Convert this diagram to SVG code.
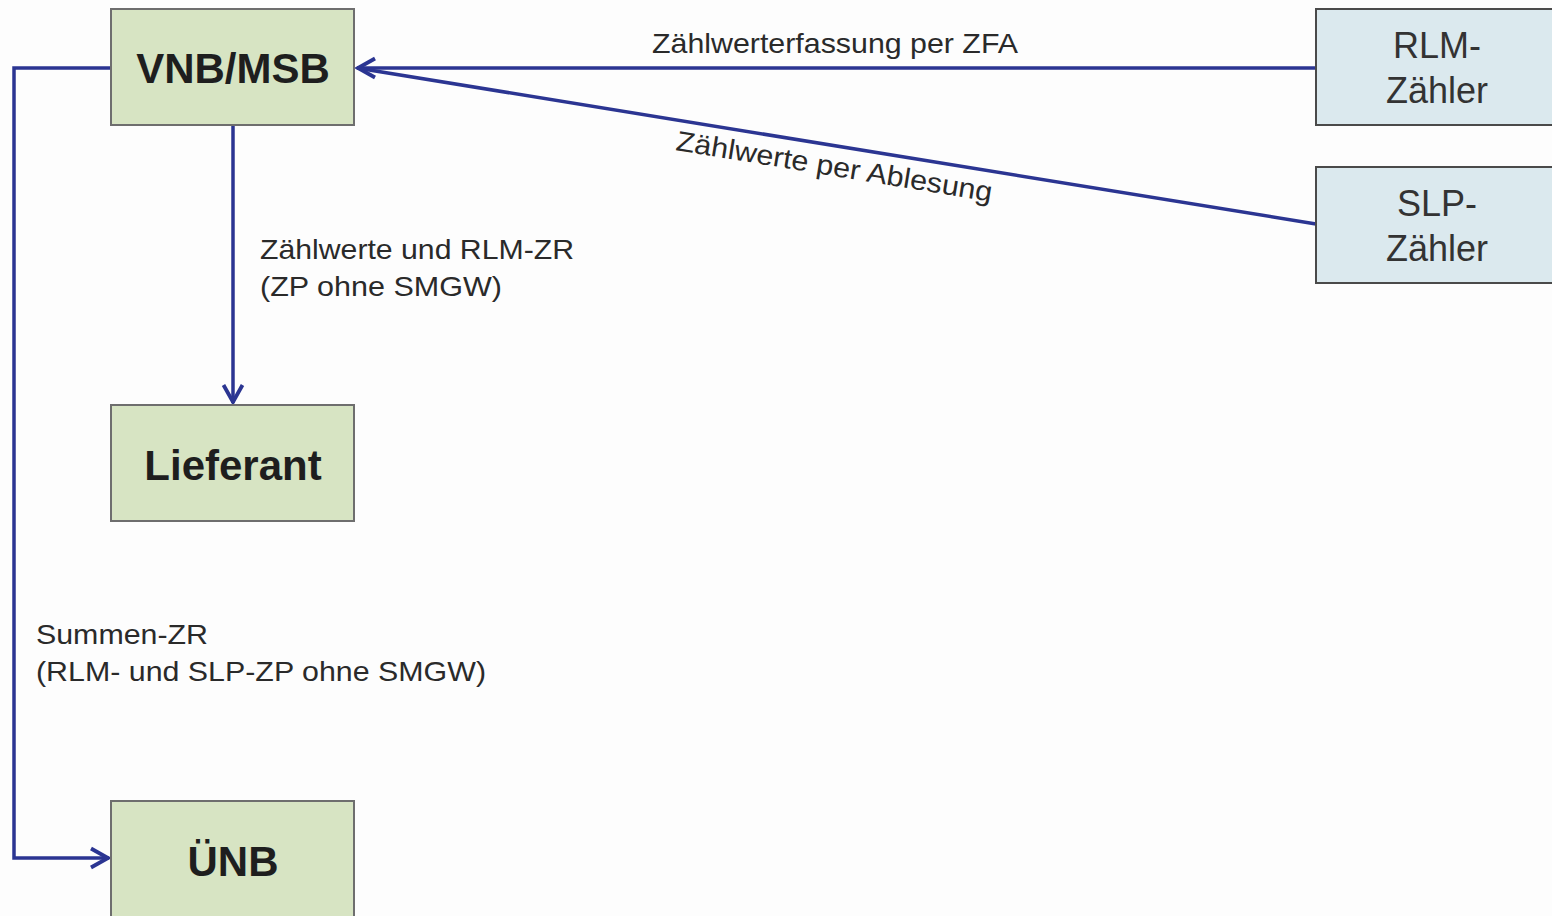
<svg xmlns="http://www.w3.org/2000/svg" width="1552" height="916" viewBox="0 0 1552 916">
<defs>
<style>
.g{fill:#d7e4c3;stroke:#6e6e6e;stroke-width:2}
.b{fill:#dbe9ee;stroke:#4a4a4a;stroke-width:2}
.t{font-family:"Liberation Sans",Arial,sans-serif;fill:#1e1e1e}
.bt{font-size:42px;font-weight:bold;text-anchor:middle}
.nt{font-size:36px;text-anchor:middle;fill:#333}
.lt{font-size:28px;fill:#2a2a2a}
.c{fill:none;stroke:#2b3592;stroke-width:3.5}
</style>
<marker id="ah" viewBox="0 0 24 24" refX="22" refY="12" markerWidth="24" markerHeight="24" markerUnits="userSpaceOnUse" orient="auto">
<path d="M4,2.5 L21,12 L4,21.5" fill="none" stroke="#2b3592" stroke-width="3.8"/>
</marker>
</defs>
<rect width="1552" height="916" fill="#fdfdfd"/>
<g id="connectors">
<path class="c" d="M1316,68 H357" marker-end="url(#ah)"/>
<path class="c" d="M1316,224 L357,68"/>
<path class="c" d="M233,125 V403" marker-end="url(#ah)"/>
<path class="c" d="M111,68 H14 V858 H109" marker-end="url(#ah)"/>
<text class="t lt" x="652" y="53" textLength="366" lengthAdjust="spacingAndGlyphs">Zählwerterfassung per ZFA</text>
<text class="t lt" transform="translate(675,150) rotate(9.3)" textLength="320" lengthAdjust="spacingAndGlyphs">Zählwerte per Ablesung</text>
<text class="t lt" x="260" y="259" textLength="314" lengthAdjust="spacingAndGlyphs">Zählwerte und RLM-ZR</text>
<text class="t lt" x="260" y="296" textLength="242" lengthAdjust="spacingAndGlyphs">(ZP ohne SMGW)</text>
<text class="t lt" x="36" y="644" textLength="172" lengthAdjust="spacingAndGlyphs">Summen-ZR</text>
<text class="t lt" x="36" y="681" textLength="450" lengthAdjust="spacingAndGlyphs">(RLM- und SLP-ZP ohne SMGW)</text>
</g>
<g id="vnb"><rect class="g" x="111" y="9" width="243" height="116"/><text class="t bt" x="233" y="83">VNB/MSB</text></g>
<g id="lieferant"><rect class="g" x="111" y="405" width="243" height="116"/><text class="t bt" x="233" y="480">Lieferant</text></g>
<g id="unb"><rect class="g" x="111" y="801" width="243" height="125"/><text class="t bt" x="233" y="876">ÜNB</text></g>
<g id="rlm"><rect class="b" x="1316" y="9" width="250" height="116"/><text class="t nt" x="1437" y="58">RLM-</text><text class="t nt" x="1437" y="103">Zähler</text></g>
<g id="slp"><rect class="b" x="1316" y="167" width="250" height="116"/><text class="t nt" x="1437" y="216">SLP-</text><text class="t nt" x="1437" y="261">Zähler</text></g>
</svg>
